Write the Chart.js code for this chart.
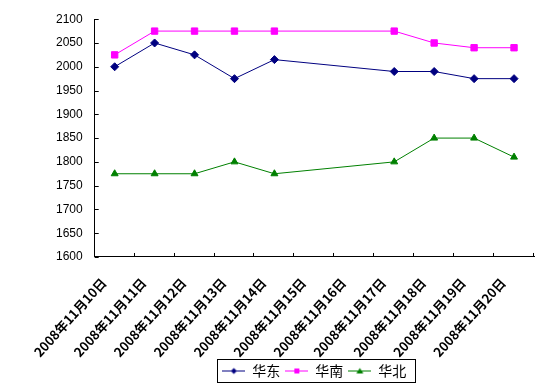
<!DOCTYPE html>
<html>
<head>
<meta charset="utf-8">
<script src="https://cdn.jsdelivr.net/npm/chart.js@4"></script>
<style>
  html, body { margin: 0; padding: 0; background: #fff; }
  #wrap { width: 542px; height: 384px; }
</style>
</head>
<body>
<div id="wrap"><canvas id="myChart" width="542" height="384"></canvas></div>
<script>
// 数据
const dates = ['2008年11月10日', '2008年11月11日', '2008年11月12日', '2008年11月13日', '2008年11月14日',
  '2008年11月15日', '2008年11月16日', '2008年11月17日', '2008年11月18日', '2008年11月19日', '2008年11月20日'];
const huadong = [2000, 2050, 2025, 1975, 2015, null, null, 1990, 1990, 1975, 1975];
const huanan = [2025, 2075, 2075, 2075, 2075, null, null, 2075, 2050, 2040, 2040];
const huabei = [1775, 1775, 1775, 1800, 1775, null, null, 1800, 1850, 1850, 1810];
const yTicks = [1600, 1650, 1700, 1750, 1800, 1850, 1900, 1950, 2000, 2050, 2100];

const cjk = '"SimSun", "Noto Sans CJK SC", sans-serif';

// 图例里的线+标记
function legendIcon(color, style) {
    const c = document.createElement('canvas');
    c.width = 23; c.height = 9;
    const g = c.getContext('2d');
    g.strokeStyle = color; g.fillStyle = color; g.lineWidth = 1;
    g.beginPath(); g.moveTo(0, 4.5); g.lineTo(23, 4.5); g.stroke();
    g.beginPath();
    if (style === 'rectRot') {
        g.moveTo(11.5, 1.5); g.lineTo(14.5, 4.5); g.lineTo(11.5, 7.5); g.lineTo(8.5, 4.5);
    } else if (style === 'rect') {
        g.rect(9, 2, 5, 5);
    } else {
        g.moveTo(11.5, 1.5); g.lineTo(15, 7); g.lineTo(8, 7);
    }
    g.closePath(); g.fill();
    return c;
}

const icons = [legendIcon('#000080', 'rectRot'), legendIcon('#FF00FF', 'rect'), legendIcon('#008000', 'triangle')];

// 图例边框 + 向内的刻度线
const extras = {
    id: 'extras',
    afterDraw(chart) {
        const ctx = chart.ctx;
        const xs = chart.scales.x, ys = chart.scales.y;
        ctx.save();
        ctx.strokeStyle = '#000';
        ctx.lineWidth = 1;
        ctx.beginPath();
        yTicks.forEach(v => {
            const y = Math.round(ys.getPixelForValue(v)) + 0.5;
            ctx.moveTo(xs.left, y); ctx.lineTo(xs.left + 4, y);
        });
        const step = xs.width / dates.length;
        for (let i = 1; i <= dates.length; i++) {
            const x = Math.round(xs.left + step * i) - 0.5;
            ctx.moveTo(x, ys.bottom); ctx.lineTo(x, ys.bottom - 4);
        }
        ctx.stroke();

        const boxes = chart.legend.legendHitBoxes;
        if (boxes && boxes.length) {
            const l = Math.min(...boxes.map(b => b.left)) - 5;
            const r = Math.max(...boxes.map(b => b.left + b.width)) + 9;
            const t = Math.min(...boxes.map(b => b.top)) - 5;
            const btm = Math.max(...boxes.map(b => b.top + b.height)) + 4;
            ctx.strokeRect(Math.round(l) + 0.5, Math.round(t) + 0.5, Math.round(r - l), Math.round(btm - t));
        }
        ctx.restore();
    }
};

const ctx = document.getElementById('myChart').getContext('2d');
new Chart(ctx, {
    type: 'line',
    data: {
        labels: dates,
        datasets: [
            { label: '华东', data: huadong, borderColor: '#000080', backgroundColor: '#000080',
              pointStyle: 'rectRot', pointRadius: 4, borderWidth: 1 },
            { label: '华南', data: huanan, borderColor: '#FF00FF', backgroundColor: '#FF00FF',
              pointStyle: 'rect', pointRadius: 4.5, borderWidth: 1 },
            { label: '华北', data: huabei, borderColor: '#008000', backgroundColor: '#008000',
              pointStyle: 'triangle', pointRadius: 4, borderWidth: 1 }
        ]
    },
    options: {
        responsive: false,
        animation: false,
        spanGaps: true,
        layout: { padding: { top: 9, right: 8, left: 44, bottom: -4 } },
        scales: {
            x: {
                offset: true,
                border: { color: '#000', width: 1 },
                grid: { display: false, drawTicks: false },
                afterFit: s => { s.paddingLeft = 0; s.paddingRight = 0; s.height -= 19; },
                ticks: { color: '#000', maxRotation: 48, minRotation: 48, autoSkip: false,
                         padding: 18, labelOffset: -11,
                         font: { family: cjk, size: 13, weight: 'bold' } }
            },
            y: {
                min: 1600, max: 2100,
                afterBuildTicks: axis => { axis.ticks = yTicks.map(v => ({ value: v })); },
                border: { color: '#000', width: 1 },
                grid: { display: false, drawTicks: false },
                ticks: { color: '#000', padding: 12, callback: v => String(v),
                         font: { family: '"Liberation Sans", Arial, sans-serif', size: 12 } }
            }
        },
        plugins: {
            tooltip: { enabled: false },
            legend: {
                position: 'bottom',
                fullSize: false,
                labels: {
                    color: '#000',
                    font: { family: cjk, size: 14 },
                    usePointStyle: true,
                    pointStyleWidth: 23,
                    boxHeight: 9,
                    padding: 5,
                    generateLabels: chart => chart.data.datasets.map((ds, i) => ({
                        text: ds.label, pointStyle: icons[i], fillStyle: ds.borderColor,
                        strokeStyle: ds.borderColor, lineWidth: 0, datasetIndex: i, fontColor: '#000'
                    }))
                }
            }
        }
    },
    plugins: [extras]
});
</script>
</body>
</html>
